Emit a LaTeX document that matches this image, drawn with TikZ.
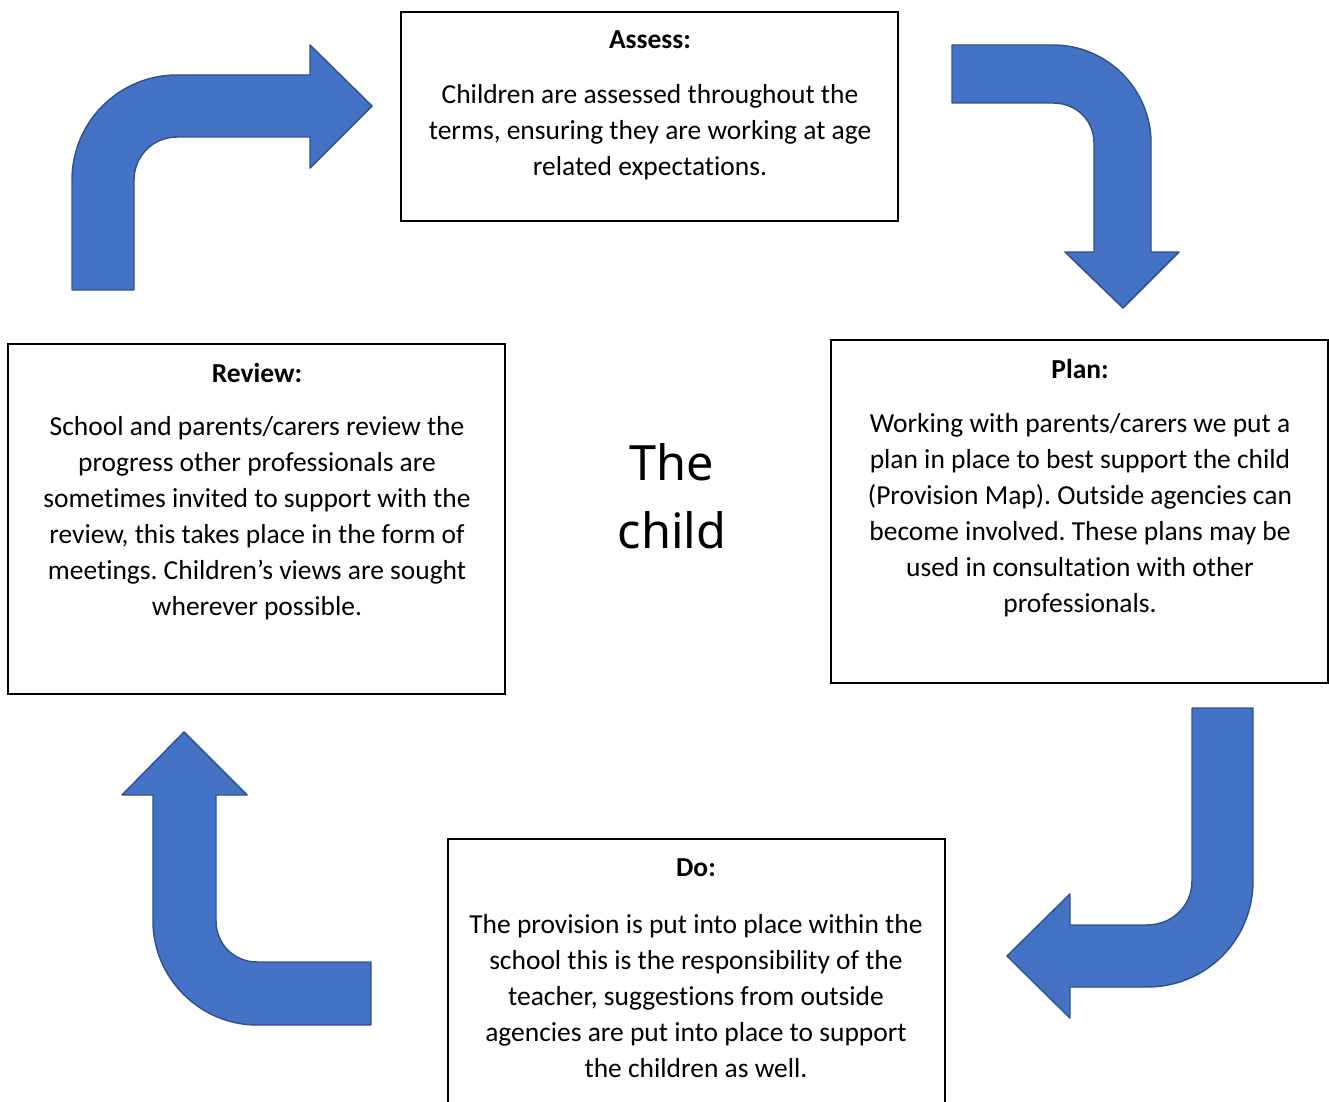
\documentclass[tikz,border=0pt]{standalone}
\usepackage{fontspec}
\setmainfont{Carlito}[Ligatures=NoCommon]
\newfontfamily\childfont{Noto Sans}
\frenchspacing
\definecolor{arrowblue}{HTML}{4472C4}
\definecolor{arrowedge}{HTML}{2F528F}
\begin{document}
\begin{tikzpicture}[x=0.75pt,y=-0.75pt,
  box/.style={draw=black,line width=1.1pt,fill=white,inner sep=0pt},
  bigarrow/.style={fill=arrowblue,draw=arrowedge,line width=1.1pt,line join=round},
  title/.style={font=\fontsize{20.6}{27}\selectfont\bfseries,inner sep=0pt},
  body/.style={font=\fontsize{20.6}{27}\selectfont,align=center,inner sep=0pt},
]
\useasboundingbox (0,0) rectangle (1329,1102);
\clip (0,0) rectangle (1329,1102);
% boxes
\node[box,minimum width=372.75pt,minimum height=156.75pt] (assess) at (649.5,116.5) {};
\node[box,minimum width=372.75pt,minimum height=257.25pt] (plan) at (1079.5,511.5) {};
\node[box,minimum width=372.75pt,minimum height=262.5pt] (review) at (256.5,519) {};
\node[box,minimum width=372.75pt,minimum height=210pt] (do) at (696.5,979) {};
% texts
\node[title] (assessT) at (650,39.5) {Assess:};
\node[body] (assessB) at (650,132.5) {Children are assessed throughout the\\terms, ensuring they are working at age\\related expectations.};
\node[title] (planT) at (1080,368.5) {Plan:};
\node[body] (planB) at (1080,515.5) {Working with parents/carers we put a\\plan in place to best support the child\\(Provision Map). Outside agencies can\\become involved. These plans may be\\used in consultation with other\\professionals.};
\node[title] (reviewT) at (257,372.5) {Review:};
\node[body] (reviewB) at (257,518.5) {School and parents/carers review the\\progress other professionals are\\sometimes invited to support with the\\review, this takes place in the form of\\meetings. Children’s views are sought\\wherever possible.};
\node[title] (doT) at (696,867.5) {Do:};
\node[body] (doB) at (696,996.5) {The provision is put into place within the\\school this is the responsibility of the\\teacher, suggestions from outside\\agencies are put into place to support\\the children as well.};
\node[font=\childfont\fontsize{36.5}{51}\selectfont,align=center,inner sep=0pt] (child) at (672,496) {The\\child};
% arrows
\draw[bigarrow] (72,290) -- (72,180) .. controls (72,122) and (119,75) .. (177,75) -- (310,75) -- (310,45) -- (372,106) -- (310,168) -- (310,137) -- (177,137) .. controls (153,137) and (134,156) .. (134,180) -- (134,290) -- cycle;
\draw[bigarrow] (952,45) -- (1053,45) .. controls (1107,45) and (1151,89) .. (1151,143) -- (1151,252) -- (1179,252) -- (1123,308) -- (1065,252) -- (1094,252) -- (1094,143) .. controls (1094,120) and (1076,103) .. (1053,103) -- (952,103) -- cycle;
\draw[bigarrow] (1192,708) -- (1253,708) -- (1253,881) .. controls (1253,940) and (1206,987) .. (1147,987) -- (1070,987) -- (1070,1018) -- (1007,956) -- (1070,894) -- (1070,925) -- (1147,925) .. controls (1172,925) and (1192,906) .. (1192,881) -- cycle;
\draw[bigarrow] (184,732) -- (247,795) -- (216,795) -- (216,921) .. controls (216,944) and (234,962) .. (257,962) -- (371,962) -- (371,1025) -- (257,1025) .. controls (200,1025) and (153,978) .. (153,921) -- (153,795) -- (122,795) -- cycle;
\end{tikzpicture}
\end{document}
